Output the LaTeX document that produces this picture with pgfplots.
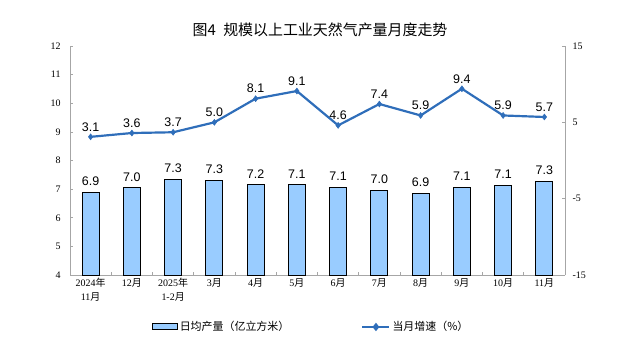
\documentclass[border=0pt]{standalone}
\usepackage{pgfplots}
\pgfplotsset{compat=1.18}
\usepackage{fontspec}
\setmainfont{Liberation Sans}
\newfontfamily\cjk{Noto Sans CJK SC}
\newfontfamily\tnr{Liberation Serif}
\definecolor{barblue}{HTML}{99CCFF}
\definecolor{lineblue}{HTML}{2F6EBA}
\definecolor{axgray}{HTML}{A6A6A6}
\newcommand\lab[2]{{\tnr #1}{\cjk #2}}
\begin{document}
\begin{tikzpicture}[x=1bp,y=1bp]
\useasboundingbox (0,0) rectangle (639,356);
\node[font=\cjk\fontsize{15}{18}\selectfont] at (320,326) {图4\hspace{0.5em}规模以上工业天然气产量月度走势};
\begin{axis}[at={(70bp,81bp)}, anchor=south west, scale only axis,
  width=495bp, height=229bp,
  xmin=-0.5, xmax=11.5, ymin=4, ymax=12, ytick={4,...,12},
  axis x line*=bottom, axis y line*=left,
  axis line style={draw=axgray, line width=0.8pt, -},
  tick align=inside, major tick length=3bp, minor tick length=3bp,
  tick style={draw=axgray, line width=0.6pt},
  xtick={0,...,11}, x tick style={draw=none},
  minor xtick={-0.5,0.5,...,11.5}, minor x tick style={draw=axgray},
  xticklabels={{\lab{2024}{年}\\\lab{11}{月}},\lab{12}{月},{\lab{2025}{年}\\\lab{1-2}{月}},\lab{3}{月},\lab{4}{月},\lab{5}{月},\lab{6}{月},\lab{7}{月},\lab{8}{月},\lab{9}{月},\lab{10}{月},\lab{11}{月}},
  xticklabel style={align=center, font=\fontsize{10}{14}\selectfont},
  yticklabel style={font=\tnr\fontsize{10}{12}\selectfont, xshift=-6bp},
  /pgf/number format/assume math mode=true,
]
\addplot[ybar, bar width=17bp, fill=barblue, draw=black, line width=1pt,
  nodes near coords, point meta=explicit symbolic,
  every node near coord/.style={font=\fontsize{12.5}{13}\selectfont, black, yshift=3bp}]
  coordinates {(0,6.87)[6.9] (1,7.04)[7.0] (2,7.34)[7.3] (3,7.31)[7.3] (4,7.15)[7.2] (5,7.15)[7.1]
               (6,7.06)[7.1] (7,6.95)[7.0] (8,6.85)[6.9] (9,7.06)[7.1] (10,7.13)[7.1] (11,7.28)[7.3]};
\end{axis}
\begin{axis}[at={(70bp,81bp)}, anchor=south west, scale only axis,
  width=495bp, height=229bp,
  xmin=-0.5, xmax=11.5, ymin=-15, ymax=15, ytick={-15,-5,5,15},
  axis x line=none, axis y line*=right,
  axis line style={draw=axgray, line width=0.8pt, -},
  tick align=inside, major tick length=3bp,
  tick style={draw=axgray, line width=0.6pt},
  yticklabel style={font=\tnr\fontsize{10}{12}\selectfont, xshift=4bp},
  /pgf/number format/assume math mode=true,
  legend style={at={(0.487,-0.227)}, anchor=center, draw=none, fill=none,
    legend columns=2, font=\cjk\fontsize{11}{13}\selectfont,
    /tikz/every even column/.append style={column sep=70bp}},
]
\addlegendimage{legend image code/.code={\draw[fill=barblue,draw=black,line width=1pt] (0bp,-3bp) rectangle (25bp,3bp);}}
\addlegendentry{日均产量（亿立方米）}
\addplot[lineblue, line width=2.2pt, mark=diamond*, mark size=3pt,
  mark options={line width=0.5pt},
  legend image code/.code={\draw[lineblue, line width=2.2pt] (0bp,0bp) -- (27bp,0bp); \fill[lineblue] (13.5bp,2.5bp) -- (15.5bp,0bp) -- (13.5bp,-2.5bp) -- (11.5bp,0bp) -- cycle;},
  nodes near coords, point meta=explicit symbolic,
  every node near coord/.style={font=\fontsize{12.5}{13}\selectfont, black, yshift=2bp}]
  coordinates {(0,3.1)[3.1] (1,3.6)[3.6] (2,3.7)[3.7] (3,5.0)[5.0] (4,8.1)[8.1] (5,9.1)[9.1]
               (6,4.6)[4.6] (7,7.4)[7.4] (8,5.9)[5.9] (9,9.4)[9.4] (10,5.9)[5.9] (11,5.7)[5.7]};
\addlegendentry{当月增速（\%）}
\end{axis}
\end{tikzpicture}
\end{document}
